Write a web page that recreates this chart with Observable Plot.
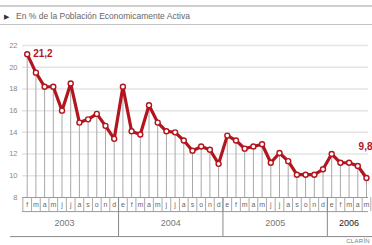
<!DOCTYPE html>
<html><head><meta charset="utf-8">
<script src="https://cdn.jsdelivr.net/npm/d3@7"></script>
<script src="https://cdn.jsdelivr.net/npm/@observablehq/plot@0.6"></script>
<style>
html,body{margin:0;padding:0;background:#fff}
body{width:372px;height:245px;overflow:hidden;position:relative;font-family:"Liberation Sans",Arial,sans-serif}
#head{height:28px;position:relative}
.l1{position:absolute;left:0;right:0;top:5px;border-top:2px solid #cfcfcf}
.sub{position:absolute;left:4px;top:11px;font-size:8.5px;color:#666;white-space:nowrap}
.sub span{font-size:7px;color:#333;margin-right:7px}
.l2{position:absolute;left:0;right:0;top:24px;border-top:1px solid #c4c4c4}
#chart svg{display:block}
.src{position:absolute;right:2px;top:238px;font-size:6px;color:#777;letter-spacing:0.3px}
</style></head><body>
<div id="head"><div class="l1"></div><div class="sub"><span>&#9654;</span>En % de la Población Economicamente Activa</div><div class="l2"></div></div>
<div id="chart"></div>
<div class="src">CLARÍN</div>
<script>
// Month initials (Spanish), Feb 2003 .. May 2006
const months = ["f","m","a","m","j","j","a","s","o","n","d",
  "e","f","m","a","m","j","j","a","s","o","n","d",
  "e","f","m","a","m","j","j","a","s","o","n","d",
  "e","f","m","a","m"];
const values = [21.2,19.5,18.2,18.2,16.0,18.5,14.9,15.2,15.7,14.6,13.4,
  18.2,14.1,13.8,16.5,14.9,14.1,14.0,13.25,12.3,12.7,12.4,11.1,
  13.7,13.25,12.5,12.7,12.9,11.2,12.1,11.35,10.1,10.1,10.1,10.6,
  12.0,11.2,11.2,10.9,9.8];
const years = ["2003","2004","2005","2006"];
const yTicks = [8,10,12,14,16,18,20,22];

// build table
let yi = -1;
const data = values.map((v, i) => {
  if (i === 0 || months[i] === "e") yi++;
  return {i, v, m: months[i], year: years[yi]};
});
const yearGroups = years.map(y => {
  const pts = data.filter(d => d.year === y);
  return {year: y, first: pts[0].i, last: pts[pts.length - 1].i};
});
const yearSeps = yearGroups.slice(1).map(g => g.first - 0.5);
const monthSeps = d3.range(-0.5, values.length, 1);
const labelled = [data[0], data[data.length - 1]];

const RED = "#b3151f";
const MONTH_ROW = 6.7;   // bottom of month row, in y units below the axis
const YEAR_ROW = 4.4;    // bottom of year row

const chart = Plot.plot({
  width: 372, height: 217,
  marginTop: 17, marginBottom: 48, marginLeft: 22, marginRight: 4,
  x: {domain: [0, values.length - 1], range: [26.7, 366], axis: null},
  y: {domain: [8, 22], axis: null},
  style: {fontFamily: "Liberation Sans, Arial, sans-serif", background: "#fff"},
  marks: [
    Plot.ruleY(yTicks.slice(1), {stroke: "#e4e4e4", strokeWidth: 1.5}),
    Plot.axisY(yTicks, {tickSize: 0, tickPadding: 5, fill: "#888", fontSize: 7.5, label: null}),
    Plot.ruleX(data, {x: "i", y1: 8, y2: "v", stroke: "#a8a8a8", strokeWidth: 1}),
    Plot.ruleY([8], {stroke: "#999", strokeWidth: 1}),
    Plot.ruleY([MONTH_ROW], {stroke: "#999", strokeWidth: 1}),
    Plot.ruleY([YEAR_ROW], {stroke: "#888", strokeWidth: 1, insetLeft: -12, insetRight: -4}),
    Plot.ruleX(monthSeps, {x: d => d, y1: 8, y2: MONTH_ROW, stroke: "#aaa", strokeWidth: 1}),
    Plot.ruleX(yearSeps, {x: d => d, y1: 8, y2: YEAR_ROW, stroke: "#888", strokeWidth: 1}),
    Plot.text(data, {x: "i", y: 8, text: "m", dy: 7, fontSize: 7, fill: "#666",
      fontWeight: (d, i) => i === data.length - 1 ? "bold" : "normal"}),
    Plot.text(yearGroups, {x: d => (d.first + d.last) / 2 - (d.year === "2003" ? 0.7 : 0), y: MONTH_ROW, text: "year", dy: 11,
      fontSize: 9, fill: d => d.year === "2006" ? "#222" : "#777",
      fontWeight: d => d.year === "2006" ? "bold" : "normal"}),
    Plot.line(data, {x: "i", y: "v", stroke: RED, strokeWidth: 3.2, strokeLinejoin: "round"}),
    Plot.dot(data, {x: "i", y: "v", r: 2.5, fill: "#fff", stroke: RED, strokeWidth: 1.4}),
    Plot.text([labelled[0]], {x: "i", y: "v", text: d => d.v.toFixed(1).replace(".", ","), dx: 6, textAnchor: "start",
      fill: RED, fontWeight: "bold", fontSize: 10}),
    Plot.text([labelled[1]], {x: "i", y: "v", text: d => d.v.toFixed(1).replace(".", ","), dy: -31, dx: 6, textAnchor: "end",
      fill: RED, fontWeight: "bold", fontSize: 10})
  ]
});
document.getElementById("chart").appendChild(chart);
</script>
</body></html>
